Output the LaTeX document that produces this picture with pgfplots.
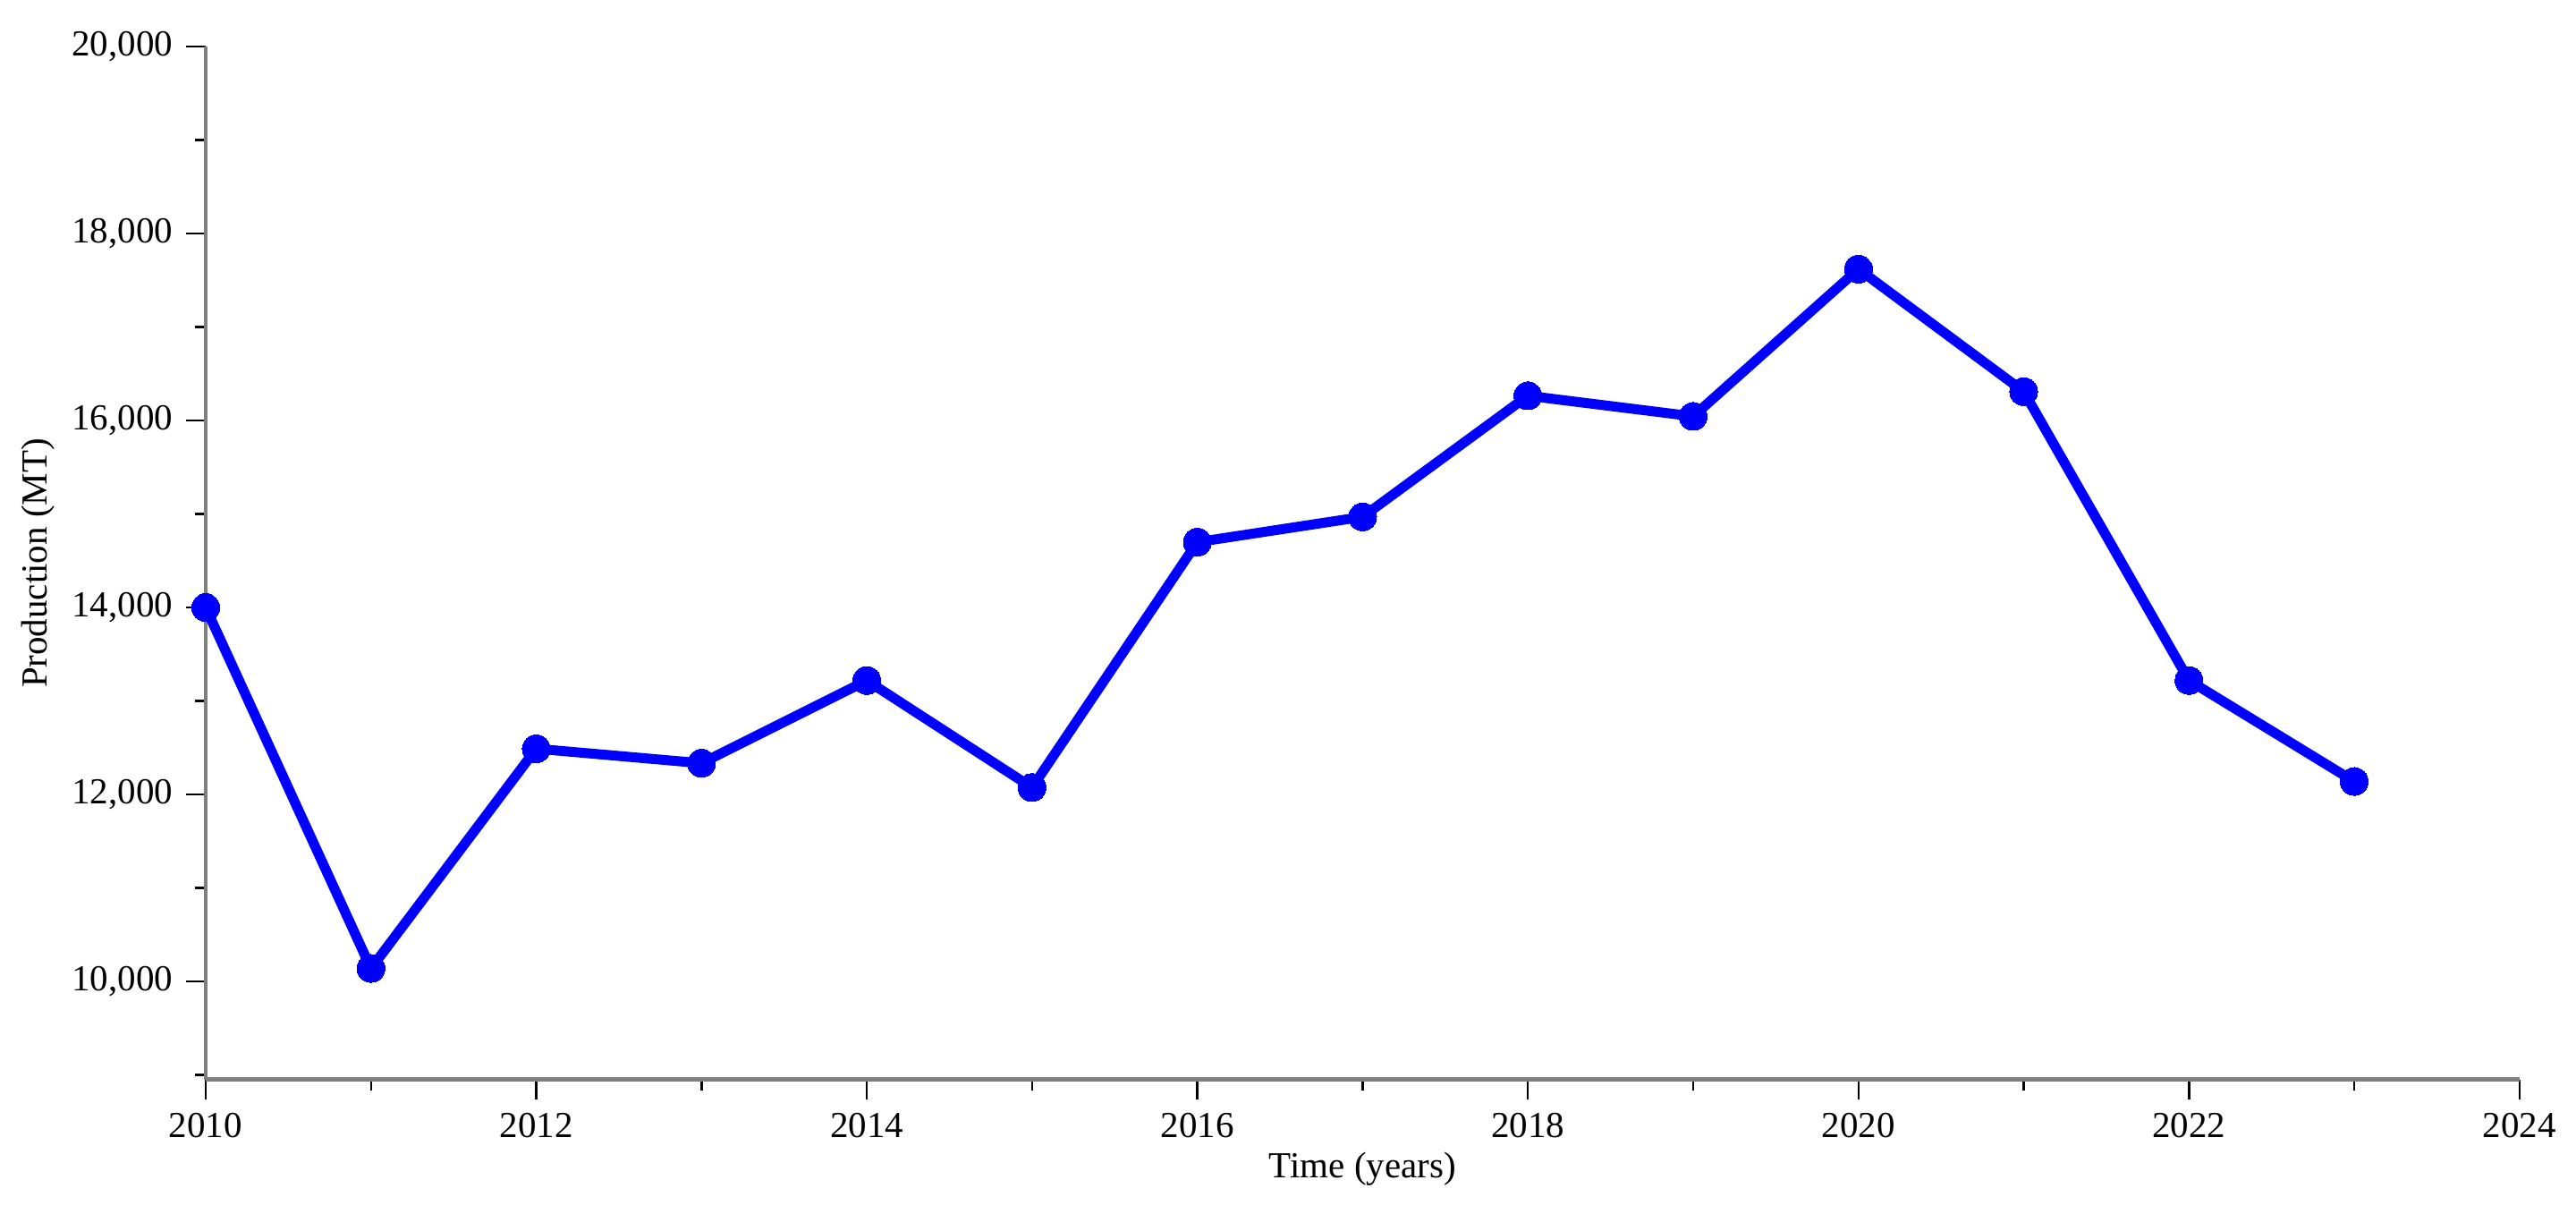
\documentclass[border=0pt]{standalone}
\usepackage{fontspec}
\setmainfont{Liberation Serif}
\usepackage{pgfplots}
\pgfplotsset{compat=1.18}
\begin{document}
\begin{tikzpicture}
\begin{axis}[
  scale only axis, width=631pt, height=281.7pt,
  xmin=2010, xmax=2024, ymin=8950, ymax=20000,
  axis lines=left,
  axis line style={draw=gray, line width=1.2pt, -},
  xtick={2010,2012,...,2024}, minor xtick={2011,2013,...,2023},
  ytick={10000,12000,...,20000}, minor ytick={9000,11000,...,19000},
  tick align=outside, major tick length=5.5pt, minor tick length=3pt,
  every tick/.style={black, line width=0.6pt},
  scaled y ticks=false, scaled x ticks=false,
  x tick label style={/pgf/number format/1000 sep={}},
  y tick label style={/pgf/number format/1000 sep={,}},
  /pgf/number format/assume math mode=true,
  tick label style={font=\fontsize{10}{12}\selectfont},
  label style={font=\fontsize{10}{12}\selectfont},
  xlabel={Time (years)}, ylabel={Production (MT)},
  xlabel style={at={(axis description cs:0.5,-0.0866)}, anchor=center},
  ylabel style={at={(axis description cs:-0.0723,0.5)}, anchor=center, rotate=0},
  clip=false,
]
\addplot[color={rgb,255:red,0;green,0;blue,255}, line width=2.7pt, mark=*, mark size=3.8pt,
  mark options={solid, fill={rgb,255:red,0;green,0;blue,255}, draw={rgb,255:red,0;green,0;blue,255}, line width=0pt}]
coordinates {
(2010,14000) (2011,10140) (2012,12490) (2013,12335) (2014,13220) (2015,12075)
(2016,14700) (2017,14970) (2018,16265) (2019,16045) (2020,17620) (2021,16310)
(2022,13220) (2023,12140)
};
\end{axis}
\path (current axis.south west) ++(-56.1pt,-36.6pt) coordinate (bl);
\path (current axis.north east) ++(15.4pt,12.7pt) coordinate (tr);
\useasboundingbox (bl) rectangle (tr);
\end{tikzpicture}
\end{document}
